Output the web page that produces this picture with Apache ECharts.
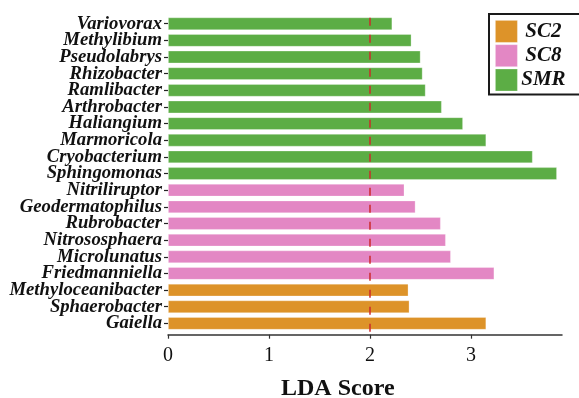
<!DOCTYPE html>
<html>
<head>
<meta charset="utf-8">
<script src="https://cdn.jsdelivr.net/npm/echarts@6/dist/echarts.min.js"></script>
<style>
  html, body { margin: 0; padding: 0; background: #fff; }
  #chart { width: 579px; height: 398px; }
</style>
</head>
<body>
<div id="chart"></div>
<script>
// LEfSe biomarkers per group, listed bottom-to-top as drawn on the axis
const groups = ['SC2', 'SC8', 'SMR'];
const sc2Genera = ['Gaiella', 'Sphaerobacter', 'Methyloceanibacter'];
const sc2Scores = [3.15, 2.39, 2.38];
const sc8Genera = ['Friedmanniella', 'Microlunatus', 'Nitrososphaera', 'Rubrobacter', 'Geodermatophilus', 'Nitriliruptor'];
const sc8Scores = [3.23, 2.80, 2.75, 2.70, 2.45, 2.34];
const smrGenera = ['Sphingomonas', 'Cryobacterium', 'Marmoricola', 'Haliangium', 'Arthrobacter', 'Ramlibacter', 'Rhizobacter', 'Pseudolabrys', 'Methylibium', 'Variovorax'];
const smrScores = [3.85, 3.61, 3.15, 2.92, 2.71, 2.55, 2.52, 2.50, 2.41, 2.22];
const xTicks = [0, 1, 2, 3];
const ldaThreshold = 2;

const groupColors = ['#dd9329', '#e387c4', '#5cad45'];
const serif = '"Liberation Serif", "Times New Roman", serif';

const categories = sc2Genera.concat(sc8Genera, smrGenera);

function seriesData(genera, scores) {
  return categories.map(function (c) {
    const i = genera.indexOf(c);
    return i >= 0 ? scores[i] : '-';
  });
}

const groupData = [
  seriesData(sc2Genera, sc2Scores),
  seriesData(sc8Genera, sc8Scores),
  seriesData(smrGenera, smrScores)
];

const series = groups.map(function (g, k) {
  const s = {
    name: g,
    type: 'bar',
    stack: 'lda',
    barCategoryGap: '24%',
    data: groupData[k],
    itemStyle: {
      color: groupColors[k],
      borderColor: 'rgba(255,255,255,0.35)',
      borderWidth: 0.8
    }
  };
  if (k === 2) {
    s.markLine = {
      silent: true,
      symbol: 'none',
      label: { show: false },
      lineStyle: { color: '#cc2a2a', width: 1.5, type: [8, 9] },
      data: [{ xAxis: ldaThreshold }]
    };
  }
  return s;
});

const chart = echarts.init(document.getElementById('chart'), null, { renderer: 'canvas' });
chart.setOption({
  animation: false,
  backgroundColor: '#fff',
  grid: { left: 168, right: 17, top: 15.4, bottom: 66.3, containLabel: false },
  legend: {
    data: groups,
    orient: 'vertical',
    left: 489,
    top: 14,
    padding: [6, 16, 3, 6],
    itemWidth: 22,
    itemHeight: 22,
    itemGap: 1.5,
    borderColor: '#1a1a1a',
    borderWidth: 2,
    icon: 'rect',
    itemStyle: { borderColor: 'rgba(255,255,255,0.35)', borderWidth: 0.8 },
    formatter: function (n) { return '{t|' + n + '}'; },
    textStyle: {
      rich: {
        t: {
          width: 42,
          align: 'center',
          fontFamily: serif,
          fontStyle: 'italic',
          fontWeight: 'bold',
          fontSize: 21,
          color: '#111'
        }
      }
    }
  },
  xAxis: {
    type: 'value',
    min: 0,
    max: 3.9,
    offset: 3,
    splitLine: { show: false },
    axisLine: { show: true, lineStyle: { color: '#333', width: 1.5 } },
    axisTick: { show: true, length: 4, customValues: xTicks, lineStyle: { color: '#333', width: 1.2 } },
    axisLabel: {
      customValues: xTicks,
      margin: 11,
      fontFamily: serif,
      fontSize: 20,
      color: '#111'
    }
  },
  yAxis: {
    type: 'category',
    data: categories,
    axisLine: { show: false },
    axisTick: { show: true, alignWithLabel: true, interval: 0, length: 4, lineStyle: { color: '#222', width: 1.2 } },
    axisLabel: {
      interval: 0,
      margin: 6,
      fontFamily: serif,
      fontStyle: 'italic',
      fontWeight: 'bold',
      fontSize: 18.7,
      color: '#111'
    }
  },
  graphic: [{
    type: 'text',
    left: 281,
    top: 377,
    style: {
      text: 'LDA Score',
      font: 'bold 24px ' + serif,
      fill: '#111'
    }
  }],
  series: series
});
</script>
</body>
</html>
